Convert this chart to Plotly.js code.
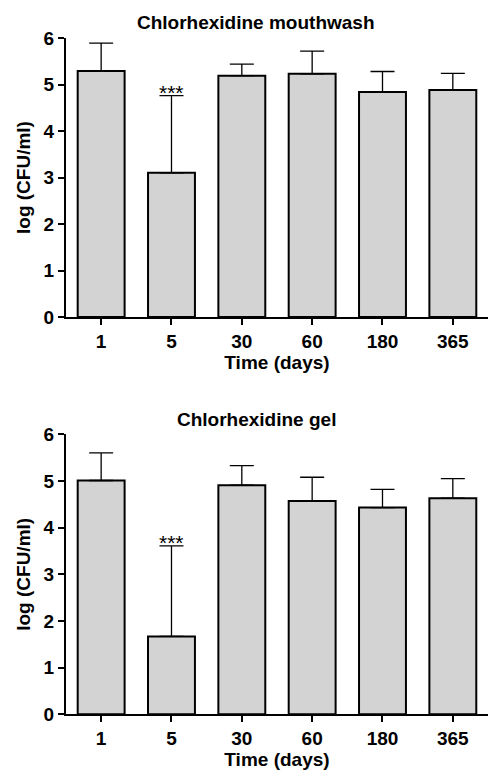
<!DOCTYPE html>
<html>
<head>
<meta charset="utf-8">
<script src="https://cdn.plot.ly/plotly-3.0.1.min.js"></script>
<style>html,body{margin:0;padding:0;background:#fff;}#chart{width:488px;height:771px;}</style>
</head>
<body>
<div id="chart"></div>
<script>
// Data
const categories = ["1", "5", "30", "60", "180", "365"];
const mouthwashMean = [5.29, 3.10, 5.19, 5.23, 4.84, 4.88];
const mouthwashErr  = [0.60, 1.66, 0.25, 0.49, 0.44, 0.36];
const gelMean = [5.01, 1.67, 4.91, 4.57, 4.43, 4.63];
const gelErr  = [0.59, 1.94, 0.42, 0.51, 0.39, 0.42];
const titles = ["Chlorhexidine mouthwash", "Chlorhexidine gel"];
const sigLabel = ["", "***", "", "", "", ""];

const FONT = "Liberation Sans, Arial, sans-serif";
const barColor = "#d3d3d3";

function barTrace(y, err, xa, ya) {
  return {
    type: "bar", x: categories, y: y, xaxis: xa, yaxis: ya,
    width: 0.667,
    marker: {color: barColor, line: {color: "#000", width: 2}},
    error_y: {type: "data", symmetric: false, array: err, arrayminus: y.map(() => 0),
              color: "#000", thickness: 1.3, width: 12},
    hoverinfo: "skip", showlegend: false
  };
}

const data = [
  barTrace(mouthwashMean, mouthwashErr, "x", "y"),
  barTrace(gelMean, gelErr, "x2", "y2")
];

function xAxis() {
  return {
    domain: [0.1352, 1], type: "category", range: [-0.5, 5.5],
    showline: true, linecolor: "#000", linewidth: 2,
    ticks: "outside", ticklen: 6, tickwidth: 2, tickcolor: "#000",
    tickfont: {family: FONT, size: 19, color: "#000", weight: "bold"},
    title: {text: "<b>Time (days)</b>", font: {family: FONT, size: 19, color: "#000"}, standoff: 2},
    showgrid: false, zeroline: false, fixedrange: true, automargin: false
  };
}
function yAxis(domain) {
  return {
    domain: domain, range: [0, 6], tickvals: [0,1,2,3,4,5,6],
    showline: true, linecolor: "#000", linewidth: 2,
    ticks: "outside", ticklen: 6, tickwidth: 2, tickcolor: "#000",
    tickfont: {family: FONT, size: 19, color: "#000", weight: "bold"},
    title: {text: "<b>log (CFU/ml)</b>", font: {family: FONT, size: 19, color: "#000"}, standoff: 8},
    showgrid: false, zeroline: false, fixedrange: true, automargin: false
  };
}

const annotations = [];
// subplot titles
const titleY = [1 - 22/771, 1 - 420/771];
titles.forEach((t, i) => annotations.push({
  text: "<b>" + t + "</b>", xref: "paper", yref: "paper", x: 0.525, y: titleY[i],
  xanchor: "center", yanchor: "middle", showarrow: false,
  font: {family: FONT, size: 19, color: "#000"}
}));
// significance stars
[[mouthwashMean, mouthwashErr, "x", "y"], [gelMean, gelErr, "x2", "y2"]].forEach(([m, e, xa, ya]) => {
  sigLabel.forEach((s, i) => {
    if (!s) return;
    annotations.push({
      text: s, xref: xa, yref: ya, x: i, y: m[i] + e[i],
      xanchor: "center", yanchor: "bottom", showarrow: false, yshift: -10,
      font: {family: FONT, size: 21, color: "#000"}
    });
  });
});

const layout = {
  width: 488, height: 771,
  margin: {l: 0, r: 0, t: 0, b: 0},
  paper_bgcolor: "#fff", plot_bgcolor: "#fff",
  xaxis: Object.assign(xAxis(), {anchor: "y"}),
  yaxis: Object.assign(yAxis([0.5888, 0.9507]), {anchor: "x"}),
  xaxis2: Object.assign(xAxis(), {anchor: "y2"}),
  yaxis2: Object.assign(yAxis([0.0735, 0.4367]), {anchor: "x2"}),
  bargap: 0.333,
  annotations: annotations,
  font: {family: FONT, color: "#000"}
};

Plotly.newPlot("chart", data, layout, {displayModeBar: false, staticPlot: true});
</script>
</body>
</html>
